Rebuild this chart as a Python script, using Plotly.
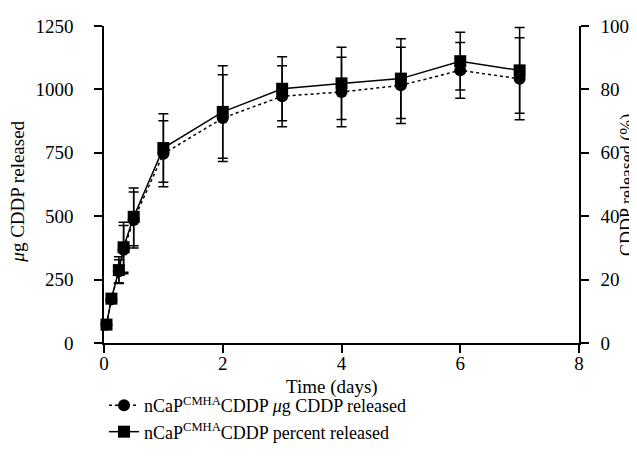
import plotly.graph_objects as go

time_days = [0.042, 0.125, 0.25, 0.33, 0.5, 1, 2, 3, 4, 5, 6, 7]
ug_released = [72, 172, 283, 368, 485, 746, 887, 973, 990, 1016, 1075, 1042]
ug_error = [8, 10, 45, 95, 110, 130, 171, 120, 137, 150, 110, 162]
pct_released = [5.8, 14.0, 23.0, 30.2, 39.8, 61.5, 72.9, 80.2, 81.9, 83.4, 88.9, 86.0]
pct_error = [0.7, 0.9, 4.2, 7.9, 9.1, 10.8, 14.6, 10.1, 11.4, 12.6, 9.1, 13.5]

x_ticks = [0, 2, 4, 6, 8]
y_ticks = [0, 250, 500, 750, 1000, 1250]
y2_ticks = [0, 20, 40, 60, 80, 100]

font = dict(family="Liberation Serif", size=18, color="black")
tfont = dict(family="Liberation Serif", size=19, color="black")

fig = go.Figure()
fig.add_trace(go.Scatter(
    x=time_days, y=ug_released, mode="lines+markers",
    name="nCaP<sup>CMHA</sup>CDDP <i>μ</i>g CDDP released",
    line=dict(color="black", width=1.5, dash="dot"),
    marker=dict(symbol="circle", size=12, color="black"),
    error_y=dict(type="data", array=ug_error, color="black", thickness=1.5, width=5),
    cliponaxis=False,
))
fig.add_trace(go.Scatter(
    x=time_days, y=pct_released, mode="lines+markers", yaxis="y2",
    name="nCaP<sup>CMHA</sup>CDDP percent released",
    line=dict(color="black", width=1.5),
    marker=dict(symbol="square", size=12, color="black"),
    error_y=dict(type="data", array=pct_error, color="black", thickness=1.5, width=5),
    cliponaxis=False,
))

axis_common = dict(showline=True, linecolor="black", linewidth=1.5, ticks="outside",
                   ticklen=8, tickwidth=1.5, tickcolor="black", showgrid=False,
                   zeroline=False, tickfont=tfont, automargin=False)

fig.update_layout(
    width=637, height=471,
    margin=dict(l=96, r=66, t=18, b=136),
    plot_bgcolor="white", paper_bgcolor="white",
    font=font,
    xaxis=dict(range=[0, 8], tickvals=x_ticks, **axis_common),
    yaxis=dict(range=[0, 1250], tickvals=y_ticks, ticklabelstandoff=17, **axis_common),
    yaxis2=dict(range=[0, 100], tickvals=y2_ticks, overlaying="y", side="right",
                ticklabelstandoff=8, **axis_common),
    showlegend=True,
    legend=dict(x=0.0, y=-0.139, xanchor="left", yanchor="top", font=font,
                bgcolor="rgba(0,0,0,0)", tracegroupgap=0, itemwidth=30),
    annotations=[
        dict(text="Time (days)", xref="paper", yref="paper", x=0.48, y=-0.138,
             xanchor="center", yanchor="middle", showarrow=False, font=tfont),
        dict(text="<i>μ</i>g CDDP released", xref="paper", yref="paper", x=-0.182, y=0.476,
             xanchor="center", yanchor="middle", textangle=-90, showarrow=False, font=tfont),
        dict(text="CDDP released (%)", xref="paper", yref="paper", x=1.102, y=0.5,
             xanchor="center", yanchor="middle", textangle=-90, showarrow=False, font=font),
    ],
)
try:
    fig.update_xaxes(ticklabelstandoff=-6)
except Exception:
    pass

fig.write_html("out.html")
